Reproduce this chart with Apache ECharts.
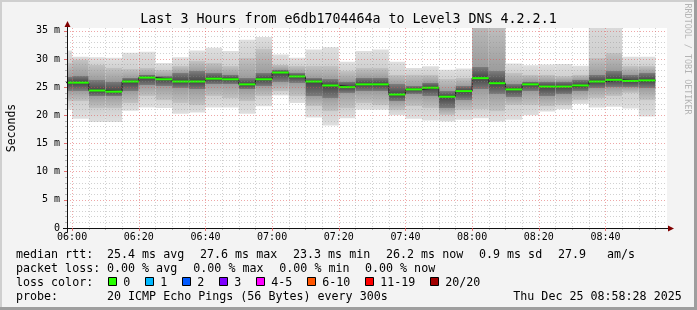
<!DOCTYPE html>
<html><head><meta charset="utf-8">
<script src="https://cdn.jsdelivr.net/npm/echarts@6/dist/echarts.min.js"></script>
<style>html,body{margin:0;padding:0;background:#f3f3f3}#c{width:697px;height:310px}</style>
</head><body><div id="c"></div>
<script>
// ---- data (milliseconds) ----
const startTimes = ['05:55','06:00','06:05','06:10','06:15','06:20','06:25','06:30','06:35','06:40','06:45','06:50',
  '06:55','07:00','07:05','07:10','07:15','07:20','07:25','07:30','07:35','07:40','07:45','07:50',
  '07:55','08:00','08:05','08:10','08:15','08:20','08:25','08:30','08:35','08:40','08:45','08:50'];
const medianMs = [25.8,25.8,24.4,24.2,26.0,26.7,26.4,26.0,26.0,26.5,26.4,25.5,
  26.4,27.6,26.9,26.0,25.3,25.0,25.5,25.5,23.7,24.6,24.9,23.3,
  24.3,26.6,25.7,24.6,25.5,25.1,25.1,25.3,26.0,26.3,26.1,26.2];
const maxMs   = [31.5,30.4,30.3,30.2,31.1,31.3,29.3,30.3,31.5,32.0,31.4,33.4,
  33.9,30.8,30.2,31.7,32.1,29.5,31.4,31.7,29.5,28.4,28.7,28.1,
  28.3,48.0,45.0,29.2,28.9,29.0,29.1,28.8,40.0,38.0,30.4,30.4];
const hiOuterMs = [29.2,29.8,29.0,28.4,28.2,28.4,28.1,28.7,29.6,29.3,28.7,30.2,
  31.7,29.0,28.7,28.7,28.7,27.8,28.4,28.4,27.2,27.2,27.2,26.4,
  26.6,38.0,36.5,27.5,27.2,27.2,26.9,27.2,30.2,31.1,28.7,28.7];
const hiInnerMs = [26.8,27.0,26.2,26.0,26.6,27.2,26.9,27.5,27.8,27.5,27.2,26.6,
  27.5,28.1,27.5,26.6,26.4,26.0,26.6,26.6,25.5,25.2,25.8,24.3,
  25.2,28.6,27.8,25.5,26.0,26.0,26.0,26.3,27.2,27.8,27.2,27.5];
const loInnerMs = [24.4,24.4,23.4,23.4,24.3,25.3,25.2,24.9,24.6,25.5,25.5,24.6,
  25.2,26.0,25.8,23.4,23.1,24.0,24.3,24.3,22.5,23.7,23.4,21.3,
  22.8,24.6,23.8,23.3,24.3,23.4,23.7,24.3,24.8,25.0,25.0,24.9];
const loOuterMs = [22.6,22.5,21.3,21.3,22.2,23.4,22.8,22.2,21.9,23.4,23.1,22.5,
  23.4,24.3,23.4,21.6,20.7,21.3,22.2,21.9,21.0,21.6,21.3,20.1,
  21.0,21.2,20.8,21.8,21.9,21.6,21.9,22.8,23.1,23.4,24.0,22.8];
const minMs   = [21.0,19.4,18.8,18.8,20.8,21.4,21.3,20.3,20.5,21.4,21.4,20.3,
  21.6,23.5,22.2,19.6,18.2,19.5,21.0,21.0,20.0,19.4,19.1,18.9,
  19.2,19.5,18.9,19.2,20.0,20.7,21.1,22.0,21.4,21.5,21.2,19.8];
const majorXTicks = ['06:00','06:20','06:40','07:00','07:20','07:40','08:00','08:20','08:40'];
const minorXTicks = ['06:05','06:10','06:15','06:25','06:30','06:35','06:45','06:50','06:55','07:05','07:10','07:15',
  '07:25','07:30','07:35','07:45','07:50','07:55','08:05','08:10','08:15','08:25','08:30','08:35','08:45','08:50','08:55'];
const majorYTicks = [0,5,10,15,20,25,30,35];
const minorYTicks = [1,2,3,4,6,7,8,9,11,12,13,14,16,17,18,19,21,22,23,24,26,27,28,29,31,32,33,34];
const STEP_MIN = 5;
const startTime = '05:58:28', endTime = '08:58:28';

const toMin = s => { const p = s.split(':').map(Number); return p[0]*60 + p[1] + (p[2]||0)/60; };
const pad = n => (n < 10 ? '0' : '') + n;
const fmt = v => { const m = Math.round(v); return pad(Math.floor(m/60)) + ':' + pad(m % 60); };
const X_MIN = toMin(startTime), X_MAX = toMin(endTime);
const MONO = '"DejaVu Sans Mono", monospace';

const smokeData = startTimes.map((t, i) => [toMin(t), toMin(t) + STEP_MIN, maxMs[i], hiOuterMs[i], hiInnerMs[i], medianMs[i], loInnerMs[i], loOuterMs[i], minMs[i]]);
const medLine = startTimes.map((t, i) => [toMin(t), medianMs[i]]);
medLine.push([toMin(startTimes[startTimes.length-1]) + STEP_MIN, medianMs[medianMs.length-1]]);

const chart = echarts.init(document.getElementById('c'), null, {renderer: 'canvas'});
const majorLine = {show: true, lineStyle: {color: 'rgba(222,80,80,0.5)', width: 1, type: [1, 2]}};
const minorLine = {show: true, lineStyle: {color: 'rgba(140,140,140,0.4)', width: 1, type: [1, 2]}};

chart.setOption({
  backgroundColor: '#f3f3f3',
  animation: false,
  grid: {left: 67, top: 28, width: 600, height: 200, show: true, backgroundColor: '#ffffff', borderWidth: 0,
         containLabel: false, outerBoundsMode: 'none'},
  xAxis: [
    {type: 'value', min: X_MIN, max: X_MAX, position: 'bottom', z: 10,
     axisLine: {show: true, onZero: false, lineStyle: {color: '#111', width: 1}},
     axisTick: {show: true, customValues: majorXTicks.map(toMin), length: 3, lineStyle: {color: 'rgba(222,80,80,0.8)'}},
     axisLabel: {show: true, customValues: majorXTicks.map(toMin), formatter: fmt, margin: 4,
                 fontFamily: MONO, fontSize: 10, color: '#000'},
     splitLine: majorLine},
    {type: 'value', min: X_MIN, max: X_MAX, position: 'bottom', z: 9,
     axisLine: {show: false},
     axisTick: {show: true, customValues: minorXTicks.map(toMin), length: 2, lineStyle: {color: 'rgba(140,140,140,0.7)'}},
     axisLabel: {show: false},
     splitLine: minorLine}
  ],
  yAxis: [
    {type: 'value', min: 0, max: 35.5, position: 'left', z: 10,
     name: 'Seconds', nameLocation: 'middle', nameGap: 49, nameRotate: 90,
     nameTextStyle: {fontFamily: MONO, fontSize: 11.5, color: '#000'},
     axisLine: {show: true, lineStyle: {color: '#111', width: 1}},
     axisTick: {show: true, customValues: majorYTicks, length: 3, lineStyle: {color: 'rgba(222,80,80,0.8)'}},
     axisLabel: {show: true, customValues: majorYTicks, formatter: v => v === 0 ? '0' : v + ' m', margin: 7,
                 fontFamily: MONO, fontSize: 10, color: '#000'},
     splitLine: majorLine},
    {type: 'value', min: 0, max: 35.5, position: 'left', z: 9,
     axisLine: {show: false},
     axisTick: {show: true, customValues: minorYTicks, length: 2, lineStyle: {color: 'rgba(140,140,140,0.6)'}},
     axisLabel: {show: false},
     splitLine: minorLine}
  ],
  series: [
    {type: 'custom', name: 'smoke', xAxisIndex: 0, yAxisIndex: 0, clip: true, z: 2,
     data: smokeData, encode: {x: [0, 1], y: [2, 8]},
     renderItem: function (params, api) {
       const x0 = api.coord([api.value(0), 0])[0];
       const x1 = api.coord([api.value(1), 0])[0];
       const yTop = api.coord([X_MIN, api.value(2)])[1];
       const yBot = api.coord([X_MIN, api.value(8)])[1];
       const h = yBot - yTop;
       const f = v => Math.max(0, Math.min(1, (api.coord([X_MIN, v])[1] - yTop) / h));
       const fA = f(api.value(3)), fB = f(api.value(4)), fM = f(api.value(5)), fLB = f(api.value(6)), fLA = f(api.value(7));
       const stops = [
         {offset: 0, color: '#dfdfdf'}, {offset: fA, color: '#d0d0d0'},
         {offset: fA, color: '#c2c2c2'}, {offset: fB, color: '#9c9c9c'},
         {offset: fB, color: '#7c7c7c'}, {offset: fM, color: '#444444'},
         {offset: fLB, color: '#7c7c7c'}, {offset: fLB, color: '#9c9c9c'},
         {offset: fLA, color: '#c2c2c2'}, {offset: fLA, color: '#d0d0d0'},
         {offset: 1, color: '#dfdfdf'}
       ];
       return {type: 'rect', shape: {x: x0, y: yTop, width: x1 - x0, height: h},
               style: {fill: new echarts.graphic.LinearGradient(0, 0, 0, 1, stops)}};
     }},
    {type: 'line', name: 'median', xAxisIndex: 0, yAxisIndex: 0, step: 'end', symbol: 'none', z: 3,
     data: medLine, lineStyle: {color: '#202020', width: 1}},
    {type: 'custom', name: 'medianLoss', xAxisIndex: 0, yAxisIndex: 0, clip: true, z: 4,
     data: startTimes.map((t, i) => [toMin(t), toMin(t) + STEP_MIN, medianMs[i]]),
     encode: {x: [0, 1], y: 2},
     renderItem: function (params, api) {
       const p0 = api.coord([api.value(0), api.value(2)]);
       const p1 = api.coord([api.value(1), api.value(2)]);
       return {type: 'line', shape: {x1: p0[0], y1: p0[1], x2: p1[0], y2: p1[1]},
               style: {stroke: '#26ff00', lineWidth: 2}};
     }}
  ]
});

// decorations
const o = chart.convertToPixel({gridIndex: 0}, [X_MIN, 0]);
const e = chart.convertToPixel({gridIndex: 0}, [X_MAX, 35.5]);
const txt = (text, x, y, size, extra) => Object.assign({type: 'text', x: x, y: y, z: 30,
  style: {text: text, fill: '#000', fontSize: size, fontFamily: MONO, textAlign: 'left', align: 'left', textVerticalAlign: 'middle', verticalAlign: 'middle'}}, extra || {});
const LG = 11.67;
const lossColors = ['#26ff00','#00b8ff','#0059ff','#7e00ff','#ff00ff','#ff5500','#ff0000','#a10000'];
const lossLabels = ['0','1','2','3','4-5','6-10','11-19','20/20'];
const lossBoxX = [108.5,145.5,182.5,219.5,256.5,307.5,365.5,430.5];
const els = [
  {type: 'rect', z: 30, shape: {x: 0, y: 0, width: 697, height: 2}, style: {fill: '#cfcfcf'}},
  {type: 'rect', z: 30, shape: {x: 0, y: 0, width: 2, height: 310}, style: {fill: '#cfcfcf'}},
  {type: 'rect', z: 30, shape: {x: 0, y: 307, width: 697, height: 3}, style: {fill: '#9e9e9e'}},
  {type: 'rect', z: 30, shape: {x: 694, y: 0, width: 3, height: 310}, style: {fill: '#9e9e9e'}},
  txt('', 348.5, 19.5, 13.3, {style: {text: 'Last 3 Hours from e6db1704464a to Level3 DNS 4.2.2.1', fill: '#000', fontSize: 13.3, fontFamily: MONO, textAlign: 'center', align: 'center', textVerticalAlign: 'middle', verticalAlign: 'middle'}}),
  {type: 'text', x: 687, y: 59, rotation: -Math.PI/2, z: 30,
   style: {text: 'RRDTOOL / TOBI OETIKER', fill: '#b4b4b4', fontSize: 8.4, fontFamily: MONO, textAlign: 'center', align: 'center', textVerticalAlign: 'middle', verticalAlign: 'middle'}},
  // axis extensions and arrows
  {type: 'line', z: 30, shape: {x1: o[0]-4, y1: o[1]+0.5, x2: o[0], y2: o[1]+0.5}, style: {stroke: '#111', lineWidth: 1}},
  {type: 'line', z: 30, shape: {x1: e[0], y1: o[1]+0.5, x2: e[0]+2, y2: o[1]+0.5}, style: {stroke: '#111', lineWidth: 1}},
  {type: 'line', z: 30, shape: {x1: o[0]+0.5, y1: o[1], x2: o[0]+0.5, y2: o[1]+4}, style: {stroke: '#111', lineWidth: 1}},
  {type: 'line', z: 30, shape: {x1: o[0]+0.5, y1: e[1], x2: o[0]+0.5, y2: e[1]-2}, style: {stroke: '#111', lineWidth: 1}},
  {type: 'polygon', z: 31, shape: {points: [[e[0]+1, o[1]-2.5], [e[0]+7, o[1]+0.5], [e[0]+1, o[1]+3.5]]}, style: {fill: '#800000'}},
  {type: 'polygon', z: 31, shape: {points: [[o[0]-2.5, e[1]-1], [o[0]+0.5, e[1]-7], [o[0]+3.5, e[1]-1]]}, style: {fill: '#800000'}},
  // legend
  txt('median rtt:', 16, 254.5, LG), txt('25.4 ms avg', 107, 254.5, LG), txt('27.6 ms max', 200, 254.5, LG),
  txt('23.3 ms min', 293, 254.5, LG), txt('26.2 ms now', 386, 254.5, LG), txt('0.9 ms sd', 479, 254.5, LG),
  txt('27.9', 558, 254.5, LG), txt('am/s', 607, 254.5, LG),
  txt('packet loss:', 16, 268.5, LG), txt('0.00 % avg', 107, 268.5, LG), txt('0.00 % max', 193.3, 268.5, LG),
  txt('0.00 % min', 279.3, 268.5, LG), txt('0.00 % now', 365, 268.5, LG),
  txt('loss color:', 16, 282.5, LG),
  txt('probe:', 16, 296.5, LG), txt('20 ICMP Echo Pings (56 Bytes) every 300s', 107, 296.5, LG),
  txt('Thu Dec 25 08:58:28 2025', 513.3, 296.5, LG)
];
lossColors.forEach((c, i) => {
  els.push({type: 'rect', z: 30, shape: {x: lossBoxX[i], y: 277.5, width: 8, height: 8}, style: {fill: c, stroke: '#000', lineWidth: 1}});
  els.push(txt(lossLabels[i], lossBoxX[i] + 14.8, 282.5, LG));
});
chart.setOption({graphic: {elements: els}});
</script></body></html>
